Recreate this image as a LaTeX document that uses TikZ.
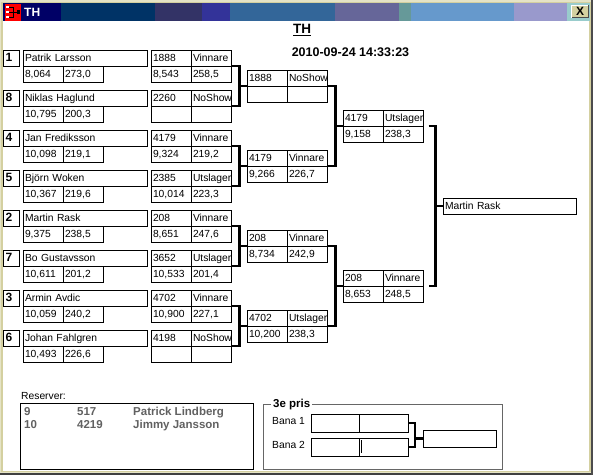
\documentclass[tikz,border=0pt]{standalone}
\usepackage{fontspec}
\setmainfont{Liberation Sans}
\usepackage{tikz}
\usetikzlibrary{calc, positioning}
\definecolor{frameC}{RGB}{212, 208, 160}
\definecolor{barA}{RGB}{0, 0, 102}
\definecolor{barB}{RGB}{0, 51, 102}
\definecolor{barC}{RGB}{51, 51, 102}
\definecolor{barD}{RGB}{51, 51, 153}
\definecolor{barE}{RGB}{51, 102, 153}
\definecolor{barF}{RGB}{102, 102, 153}
\definecolor{barG}{RGB}{102, 153, 153}
\definecolor{barH}{RGB}{102, 153, 204}
\definecolor{barI}{RGB}{153, 153, 204}
\definecolor{barJ}{RGB}{153, 204, 204}
\tikzset{
  cell/.style={draw, line width=1pt, anchor=north west, inner sep=0pt, outer sep=0pt,
    minimum height=16pt, text height=8pt, text depth=2pt, align=left,
    font=\fontsize{10.3}{12}\selectfont},
  cellbox/.style={cell, text width=37pt, minimum width=40pt, inner xsep=1.5pt},
  namebox/.style={cell, text width=120.5pt, minimum width=123.5pt, inner xsep=1.5pt},
  seedbox/.style={cell, text width=12pt, minimum width=16pt, inner xsep=2pt, font=\fontsize{12}{14}\selectfont\bfseries},
  blankbox/.style={draw, line width=1pt, anchor=north west, inner sep=0pt, outer sep=0pt},
  bracket/.style={line width=2.5pt, line join=miter},
  plain/.style={inner sep=0pt, anchor=west, font=\fontsize{10.3}{12}\selectfont},
  reserve/.style={inner sep=0pt, anchor=base west, text=black!62, font=\fontsize{11.5}{13}\selectfont\bfseries}
}
% a result: two cells over two cells, named #1a to #1d
\newcommand{\resultbox}[7]{
  \node[cellbox] (#1a) at (#2,#3) {#4};
  \node[cellbox] (#1b) at (#1a.north east) {#5};
  \node[cellbox] (#1c) at (#1a.south west) {#6};
  \node[cellbox] (#1d) at (#1c.north east) {#7};
}
% a player: seed, name and two cells
\newcommand{\playerbox}[6]{
  \node[seedbox] (s#1) at (3.5,#2) {#3};
  \node[namebox] (p#1) at (23.5,#2) {#4};
  \node[cellbox] (p#1c) at (p#1.south west) {#5};
  \node[cellbox] (p#1d) at (p#1c.north east) {#6};
}
% a bracket joining two results to the next one
\newcommand{\joinbox}[5]{
  \draw[bracket] ($(#1)+(#4,0)$) -- ++(#5,0) coordinate (joint) |- ($(#2)+(#4,0)$);
  \draw[bracket] (joint |- #3) -- (#3);
}
\begin{document}
\begin{tikzpicture}[x=1pt, y=-1pt]
  \useasboundingbox (0,0) rectangle (593,475);
  % --- Window ---
  \fill[frameC!60] (0,0) rectangle (593,475);
  \fill[frameC] (1,2) rectangle (590.5,472);
  \fill[white] (3,21) rectangle (589,470.5);
  \fill[black!75] (0,473) rectangle (593,475);
  \fill[black!70] (591,0) rectangle (593,475);
  % title bar
  \fill[barA] (3,3) rectangle (61,21);
  \fill[barB] (61,3) rectangle (155,21);
  \fill[barC] (155,3) rectangle (202,21);
  \fill[barD] (202,3) rectangle (230,21);
  \fill[barE] (230,3) rectangle (335,21);
  \fill[barF] (335,3) rectangle (399,21);
  \fill[barG] (399,3) rectangle (411,21);
  \fill[barH] (411,3) rectangle (514,21);
  \fill[barI] (514,3) rectangle (567,21);
  \fill[barJ] (567,3) rectangle (590,21);
  \fill[red] (5,4) rectangle (21,21);
  \draw[white, line width=2pt] (6,7) -- (9,7) (6,12) -- (9,12) (6,17) -- (9,17);
  \draw[line width=1pt] (9,7) -- (13,7) -- (13,17) -- (9,17) (9,12) -- (13,12) (13,12) -- (17,12);
  \fill (17,10) rectangle (20,14);
  \node[inner sep=0pt, anchor=west, text=white, font=\fontsize{12}{14}\selectfont\bfseries] (wintitle) at (24,12) {TH};
  \node[fill=frameC, minimum width=16pt, minimum height=12pt, inner sep=0pt, font=\fontsize{12}{14}\selectfont\bfseries] (closebtn) at (580,11.5) {X};
  \draw[white, line width=1pt] (closebtn.south west) -- (closebtn.north west) -- (closebtn.north east);
  \draw[black!70, line width=1pt] (closebtn.south west) -- (closebtn.south east) -- (closebtn.north east);

  % --- Heading ---
  \node[inner sep=0pt, font=\fontsize{13.5}{15}\selectfont\bfseries] (heading) at (302,30) {\underline{TH}};
  \node[inner sep=0pt, font=\fontsize{12.5}{14}\selectfont\bfseries] (stamp) at (350.5,52.5) {2010-09-24 14:33:23};

  % --- Players ---
  \playerbox{1}{50}{1}{Patrik Larsson}{8,064}{273,0}
  \playerbox{8}{90}{8}{Niklas Haglund}{10,795}{200,3}
  \playerbox{4}{130}{4}{Jan Frediksson}{10,098}{219,1}
  \playerbox{5}{170}{5}{Björn Woken}{10,367}{219,6}
  \playerbox{2}{210}{2}{Martin Rask}{9,375}{238,5}
  \playerbox{7}{250}{7}{Bo Gustavsson}{10,611}{201,2}
  \playerbox{3}{290}{3}{Armin Avdic}{10,059}{240,2}
  \playerbox{6}{330}{6}{Johan Fahlgren}{10,493}{226,6}

  % --- First round ---
  \resultbox{ra}{151.5}{50}{1888}{Vinnare}{8,543}{258,5}
  \resultbox{rb}{151.5}{90}{2260}{NoShow}{}{}
  \resultbox{rc}{151.5}{130}{4179}{Vinnare}{9,324}{219,2}
  \resultbox{rd}{151.5}{170}{2385}{Utslager}{10,014}{223,3}
  \resultbox{re}{151.5}{210}{208}{Vinnare}{8,651}{247,6}
  \resultbox{rf}{151.5}{250}{3652}{Utslager}{10,533}{201,4}
  \resultbox{rg}{151.5}{290}{4702}{Vinnare}{10,900}{227,1}
  \resultbox{rh}{151.5}{330}{4198}{NoShow}{}{}

  % --- Second round ---
  \resultbox{qa}{247.5}{70}{1888}{NoShow}{}{}
  \resultbox{qb}{247.5}{150}{4179}{Vinnare}{9,266}{226,7}
  \resultbox{qc}{247.5}{230}{208}{Vinnare}{8,734}{242,9}
  \resultbox{qd}{247.5}{310}{4702}{Utslager}{10,200}{238,3}

  % --- Semi finals ---
  \resultbox{ta}{343.5}{110}{4179}{Utslager}{9,158}{238,3}
  \resultbox{tb}{343.5}{270}{208}{Vinnare}{8,653}{248,5}

  % --- Winner ---
  \node[namebox, text width=129.5pt, minimum width=132.5pt] (champ) at (443.5,198) {Martin Rask};

  % --- Brackets ---
  \joinbox{rab.south east}{rbb.south east}{qac.north west}{0}{8}
  \joinbox{rcb.south east}{rdb.south east}{qbc.north west}{0}{8}
  \joinbox{reb.south east}{rfb.south east}{qcc.north west}{0}{8}
  \joinbox{rgb.south east}{rhb.south east}{qdc.north west}{0}{8}
  \joinbox{qab.south east}{qbb.south east}{tac.north west}{0}{8}
  \joinbox{qcb.south east}{qdb.south east}{tbc.north west}{0}{8}
  \joinbox{tab.south east}{tbb.south east}{champ.west}{5}{7}

  % --- Reserves ---
  \node[plain] (reslabel) at (21,396) {Reserver:};
  \node[blankbox, minimum width=233pt, minimum height=65.5pt] (resbox) at (20.5,403.5) {};
  \node[reserve] (resa) at (24,415) {9};
  \node[reserve] (resb) at (77,415) {517};
  \node[reserve] (resc) at (133,415) {Patrick Lindberg};
  \node[reserve] (resd) at (24,428) {10};
  \node[reserve] (rese) at (77,428) {4219};
  \node[reserve] (resf) at (133,428) {Jimmy Jansson};

  % --- Third prize ---
  \node[blankbox, draw=black!60, minimum width=239pt, minimum height=65pt] (prizebox) at (263.5,404) {};
  \node[inner sep=2pt, anchor=west, fill=white, font=\fontsize{11.5}{13}\selectfont\bfseries] (prizelabel) at (271,405) {3e pris};
  \node[plain] (banaa) at (272,421) {Bana 1};
  \node[plain] (banab) at (272,445) {Bana 2};
  \node[blankbox, minimum width=48pt, minimum height=18pt] (baa) at (311,414) {};
  \node[blankbox, minimum width=49pt, minimum height=18pt] (bab) at (baa.north east) {};
  \node[blankbox, minimum width=48pt, minimum height=18pt] (bba) at (311,438) {};
  \node[blankbox, minimum width=49pt, minimum height=18pt] (bbb) at (bba.north east) {};
  \node[blankbox, minimum width=73pt, minimum height=17pt] (bwin) at (423,430) {};
  \draw[line width=1pt] (361,440) -- (361,453); % caret
  \joinbox{bab.east}{bbb.east}{bwin.west}{0}{7}
\end{tikzpicture}
\end{document}
